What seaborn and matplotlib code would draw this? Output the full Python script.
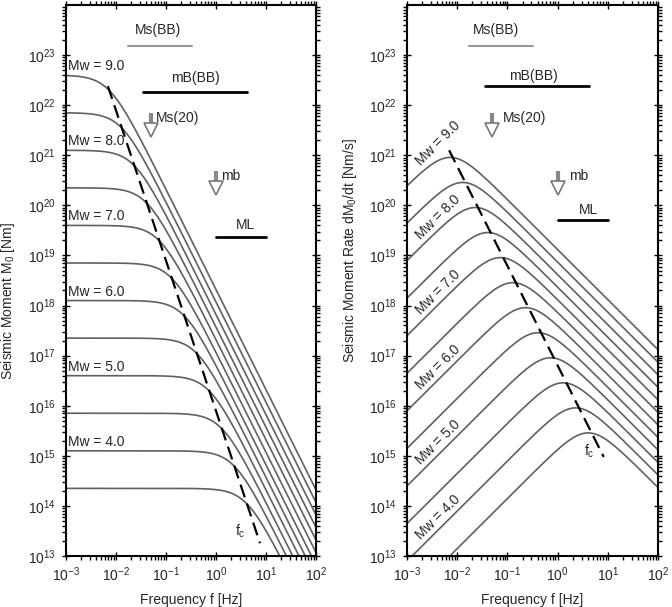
import numpy as np
import pandas as pd
import matplotlib
matplotlib.use('Agg')
import matplotlib.pyplot as plt
import seaborn as sns
from matplotlib.ticker import LogLocator, NullFormatter

sns.set_style("ticks")
plt.rcParams['font.family'] = ['Liberation Sans', 'DejaVu Sans']
plt.rcParams['mathtext.fontset'] = 'custom'
plt.rcParams['mathtext.rm'] = 'Liberation Sans'
plt.rcParams['mathtext.it'] = 'Liberation Sans:italic'

# Source spectra (Mw 3.5 .. 9.0 in 0.5 steps)
mw_values = [3.5, 4.0, 4.5, 5.0, 5.5, 6.0, 6.5, 7.0, 7.5, 8.0, 8.5, 9.0]
log_m0 = [14.35, 15.1, 15.85, 16.6, 17.35, 18.1, 18.85, 19.6, 20.35, 21.1, 21.85, 22.6]
log_fc = [0.61, 0.36, 0.11, -0.14, -0.39, -0.64, -0.89, -1.14, -1.39, -1.64, -1.89, -2.14]
labelled_mw = [4.0, 5.0, 6.0, 7.0, 8.0, 9.0]

# Dashed corner-frequency lines (end points)
fc_line_left_f = [0.0069, 7.6]
fc_line_left_y = [2.4e22, 1.8e13]
fc_line_right_f = [0.0069, 8.3]
fc_line_right_y = [1.26e21, 9.5e14]

# Magnitude scale bands / arrows (frequency ranges, levels)
ms_bb_f = [0.0174, 0.33]
mb_bb_f = [0.035, 4.2]
ml_f = [1.0, 10.0]
ms20_f = 0.05
mb_f = 1.0
ms_bb_y = [1.5e23, 1.5e23]
mb_bb_y_left = [1.8e22, 1.8e22]
mb_bb_y_right = [2.4e22, 2.4e22]
ml_y_left = [2.3e19, 2.3e19]
ml_y_right = [5.0e19, 5.0e19]

freq = np.logspace(-3, 2, 500)

rows = []
for mw, lm, lf in zip(mw_values, log_m0, log_fc):
    m0 = 10 ** lm
    fc = 10 ** lf
    spec = m0 / (1 + (freq / fc) ** 2)
    rate = 2 * np.pi * freq * spec
    rows.append(pd.DataFrame({'f': freq, 'moment': spec, 'rate': rate, 'Mw': mw}))
df = pd.concat(rows, ignore_index=True)

fig = plt.figure(figsize=(6.72, 6.07), dpi=100)
ax1 = fig.add_axes([66 / 672, 1 - 556 / 607, 250 / 672, 551 / 607])
ax2 = fig.add_axes([407 / 672, 1 - 556 / 607, 251 / 672, 551 / 607])

curve_color = '#606060'
fs = 10


def style_axis(ax):
    ax.set_xscale('log')
    ax.set_yscale('log')
    ax.set_xlim(1e-3, 1e2)
    ax.set_ylim(1e13, 1e24)
    ax.set_xticks([10.0 ** k for k in range(-3, 3)])
    ax.set_yticks([10.0 ** k for k in range(13, 24)])
    ax.xaxis.set_minor_locator(LogLocator(base=10, subs=np.arange(2, 10), numticks=100))
    ax.yaxis.set_minor_locator(LogLocator(base=10, subs=np.arange(2, 10), numticks=100))
    ax.xaxis.set_minor_formatter(NullFormatter())
    ax.yaxis.set_minor_formatter(NullFormatter())
    ax.tick_params(which='both', top=True, right=True, labelsize=fs, color='black', width=1.0)
    ax.tick_params(which='major', direction='inout', length=6, pad=4)
    ax.tick_params(which='minor', direction='out', length=3)
    for sp in ax.spines.values():
        sp.set_linewidth(1.5)
        sp.set_color('black')
    ax.set_xlabel('Frequency f [Hz]', fontsize=fs, labelpad=6)


def draw_arrow(ax, f, top, neck, head):
    ax.plot([f, f], [top, neck], color='#888888', lw=3, solid_capstyle='butt', zorder=4)
    ax.plot([f, f], [top, neck], color='#555555', lw=0.5, zorder=3)
    ax.plot(f, head, marker='v', ms=10, mfc='white', mec='#777777', mew=1.2, zorder=5)


# ---------- left panel: seismic moment spectra ----------
for mw in mw_values:
    sub = df[df['Mw'] == mw]
    sns.lineplot(data=sub, x='f', y='moment', ax=ax1, color=curve_color, lw=1.2,
                 estimator=None, sort=False, legend=False)
ax1.plot(fc_line_left_f, fc_line_left_y, color='black', lw=1.6, ls=(0, (6, 3)))
for mw, lm in zip(mw_values, log_m0):
    if mw in labelled_mw:
        ax1.text(1.1e-3, 10 ** (lm + 0.1), f'Mw = {mw:.1f}', fontsize=fs, ha='left', va='baseline')
ax1.text(3.0, 10 ** 13.5, r'f$_\mathregular{c}$', fontsize=fs, ha='center', va='center')

ax1.plot(ms_bb_f, ms_bb_y, color='#999999', lw=1.5)
ax1.text(10 ** -1.16, 10 ** 23.5, 'Ms(BB)', fontsize=fs, ha='center', va='center')
ax1.plot(mb_bb_f, mb_bb_y_left, color='black', lw=2)
ax1.text(10 ** -0.42, 10 ** 22.54, 'mB(BB)', fontsize=fs, ha='center', va='center')
ax1.plot(ml_f, ml_y_left, color='black', lw=2)
ax1.text(10 ** 0.58, 10 ** 19.6, 'ML', fontsize=fs, ha='center', va='center')
draw_arrow(ax1, ms20_f, 10 ** 21.84, 10 ** 21.62, 10 ** 21.5)
ax1.text(10 ** -1.2, 10 ** 21.74, 'Ms(20)', fontsize=fs, ha='left', va='center')
draw_arrow(ax1, mb_f, 10 ** 20.68, 10 ** 20.46, 10 ** 20.34)
ax1.text(10 ** 0.1, 10 ** 20.58, 'mb', fontsize=fs, ha='left', va='center')

style_axis(ax1)
ax1.set_ylabel(r'Seismic Moment M$_\mathregular{0}$ [Nm]', fontsize=fs)
ax1.yaxis.set_label_coords(-0.196, 0.463)

# ---------- right panel: moment rate spectra ----------
for mw in mw_values:
    sub = df[df['Mw'] == mw]
    sns.lineplot(data=sub, x='f', y='rate', ax=ax2, color=curve_color, lw=1.2,
                 estimator=None, sort=False, legend=False)
ax2.plot(fc_line_right_f, fc_line_right_y, color='black', lw=1.6, ls=(0, (6, 3)))
f_lab = 10 ** -2.72
for mw, lm, lf in zip(mw_values, log_m0, log_fc):
    if mw in labelled_mw:
        y = 2 * np.pi * f_lab * 10 ** lm / (1 + (f_lab / 10 ** lf) ** 2)
        ax2.text(f_lab, y * 10 ** 0.14, f'Mw = {mw:.1f}', fontsize=fs, rotation=45,
                 rotation_mode='anchor', ha='left', va='baseline')
ax2.text(4.2, 10 ** 15.1, r'f$_\mathregular{c}$', fontsize=fs, ha='center', va='center')

ax2.plot(ms_bb_f, ms_bb_y, color='#999999', lw=1.5)
ax2.text(10 ** -1.22, 10 ** 23.5, 'Ms(BB)', fontsize=fs, ha='center', va='center')
ax2.plot(mb_bb_f, mb_bb_y_right, color='black', lw=2)
ax2.text(10 ** -0.48, 10 ** 22.58, 'mB(BB)', fontsize=fs, ha='center', va='center')
ax2.plot(ml_f, ml_y_right, color='black', lw=2)
ax2.text(10 ** 0.62, 10 ** 19.9, 'ML', fontsize=fs, ha='center', va='center')
draw_arrow(ax2, ms20_f, 10 ** 21.84, 10 ** 21.62, 10 ** 21.5)
ax2.text(10 ** -1.1, 10 ** 21.74, 'Ms(20)', fontsize=fs, ha='left', va='center')
draw_arrow(ax2, mb_f, 10 ** 20.68, 10 ** 20.46, 10 ** 20.34)
ax2.text(10 ** 0.22, 10 ** 20.58, 'mb', fontsize=fs, ha='left', va='center')

style_axis(ax2)
ax2.set_ylabel(r'Seismic Moment Rate dM$_\mathregular{0}$/dt [Nm/s]', fontsize=fs)
ax2.yaxis.set_label_coords(-0.191, 0.555)

fig.savefig('out.png', dpi=100)
